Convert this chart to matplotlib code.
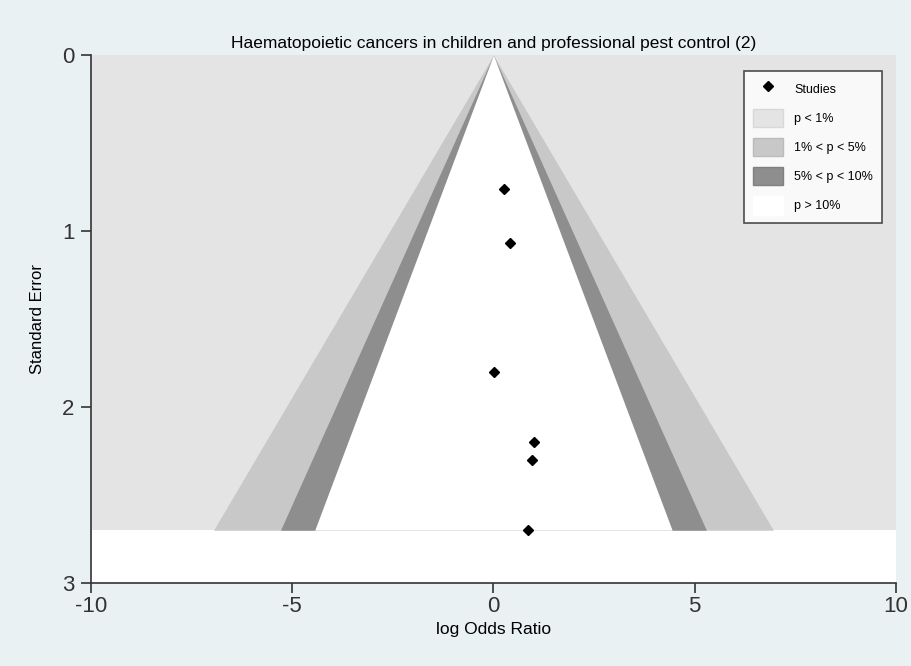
import numpy as np
import matplotlib.pyplot as plt
from matplotlib.lines import Line2D
from matplotlib.patches import Patch

plt.rcParams['font.family'] = ['Liberation Sans', 'DejaVu Sans']
plt.rcParams['axes.unicode_minus'] = False

# study estimates
log_or = [0.27, 0.40, 0.02, 1.02, 0.95, 0.87]
std_err = [0.76, 1.07, 1.80, 2.20, 2.30, 2.70]

title = "Haematopoietic cancers in children and professional pest control (2)"
z_levels = [2.576, 1.96, 1.645]
fill_cols = ['#c8c8c8', '#8e8e8e', 'white']
bg_col = '#e4e4e4'

fig = plt.figure(figsize=(9.12, 6.66), dpi=100)
fig.patch.set_facecolor('#eaf1f3')
ax = fig.add_axes([0.0998, 0.1246, 0.8825, 0.7928])
ax.set_facecolor('white')

se_max = max(std_err)
se = np.array([0, se_max])
ax.fill_between([-10, 10], 0, se_max, color=bg_col, lw=0, zorder=1)
for z, c in zip(z_levels, fill_cols):
  ax.fill_betweenx(se, -z*se, z*se, color=c, lw=0, zorder=2)

ax.plot(log_or, std_err, 'D', color='black', ms=5, zorder=5)

ax.set_xlim(-10, 10)
ax.set_ylim(3, 0)
ax.set_xticks([-10, -5, 0, 5, 10])
ax.set_yticks([0, 1, 2, 3])
ax.tick_params(labelsize=16, length=7, width=1.2, colors='#333333', pad=2)
ax.tick_params(axis='y', pad=5)
for s in ['top', 'right']:
  ax.spines[s].set_visible(False)
for s in ['left', 'bottom']:
  ax.spines[s].set_linewidth(1.2)
  ax.spines[s].set_color('#333333')
ax.set_xlabel("log Odds Ratio", fontsize=12.5, labelpad=4)
ax.set_ylabel("Standard Error", fontsize=12, labelpad=12)
ax.set_title(title, fontsize=12.5, pad=5)

handles = [Line2D([], [], marker='D', color='black', ls='', ms=5),
           Patch(facecolor=bg_col, edgecolor='#d8d8d8'),
           Patch(facecolor='#c8c8c8', edgecolor='#bbbbbb'),
           Patch(facecolor='#8e8e8e', edgecolor='#808080'),
           Patch(facecolor='white', edgecolor='white')]
labels = ["Studies", "p < 1%", "1% < p < 5%", "5% < p < 10%", "p > 10%"]
leg = ax.legend(handles, labels, loc='upper right', bbox_to_anchor=(0.99, 0.982),
                fontsize=9, frameon=True, fancybox=False, handlelength=2.4,
                handleheight=1.9, labelspacing=0.85, borderpad=0.7, handletextpad=0.9)
leg.get_frame().set_edgecolor('#222222')
leg.get_frame().set_linewidth(1.2)

fig.savefig("out.png", dpi=100, facecolor=fig.get_facecolor())
